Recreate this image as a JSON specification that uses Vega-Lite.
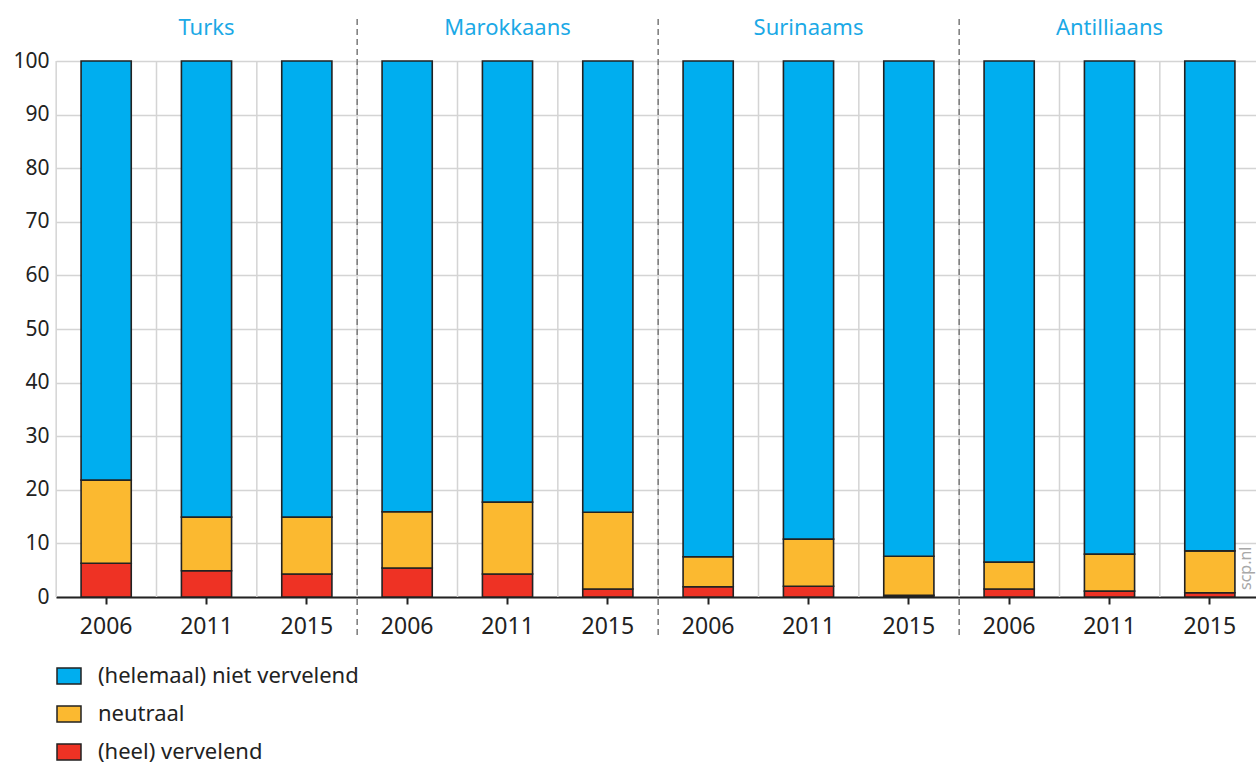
{
  "$schema": "https://vega.github.io/schema/vega-lite/v6.json",
  "padding": {"left": 12, "top": 14, "right": 0, "bottom": 0},
  "background": "white",
  "width": 1204,
  "height": 536,
  "data": {"values": [
    {"group": "Turks", "year": "2006", "cat": "(heel) vervelend", "value": 6.3},
    {"group": "Turks", "year": "2006", "cat": "neutraal", "value": 15.5},
    {"group": "Turks", "year": "2006", "cat": "(helemaal) niet vervelend", "value": 78.2},
    {"group": "Turks", "year": "2011", "cat": "(heel) vervelend", "value": 4.9},
    {"group": "Turks", "year": "2011", "cat": "neutraal", "value": 10.0},
    {"group": "Turks", "year": "2011", "cat": "(helemaal) niet vervelend", "value": 85.1},
    {"group": "Turks", "year": "2015", "cat": "(heel) vervelend", "value": 4.3},
    {"group": "Turks", "year": "2015", "cat": "neutraal", "value": 10.6},
    {"group": "Turks", "year": "2015", "cat": "(helemaal) niet vervelend", "value": 85.1},
    {"group": "Marokkaans", "year": "2006", "cat": "(heel) vervelend", "value": 5.4},
    {"group": "Marokkaans", "year": "2006", "cat": "neutraal", "value": 10.5},
    {"group": "Marokkaans", "year": "2006", "cat": "(helemaal) niet vervelend", "value": 84.1},
    {"group": "Marokkaans", "year": "2011", "cat": "(heel) vervelend", "value": 4.3},
    {"group": "Marokkaans", "year": "2011", "cat": "neutraal", "value": 13.4},
    {"group": "Marokkaans", "year": "2011", "cat": "(helemaal) niet vervelend", "value": 82.3},
    {"group": "Marokkaans", "year": "2015", "cat": "(heel) vervelend", "value": 1.5},
    {"group": "Marokkaans", "year": "2015", "cat": "neutraal", "value": 14.3},
    {"group": "Marokkaans", "year": "2015", "cat": "(helemaal) niet vervelend", "value": 84.2},
    {"group": "Surinaams", "year": "2006", "cat": "(heel) vervelend", "value": 1.9},
    {"group": "Surinaams", "year": "2006", "cat": "neutraal", "value": 5.6},
    {"group": "Surinaams", "year": "2006", "cat": "(helemaal) niet vervelend", "value": 92.5},
    {"group": "Surinaams", "year": "2011", "cat": "(heel) vervelend", "value": 2.0},
    {"group": "Surinaams", "year": "2011", "cat": "neutraal", "value": 8.8},
    {"group": "Surinaams", "year": "2011", "cat": "(helemaal) niet vervelend", "value": 89.2},
    {"group": "Surinaams", "year": "2015", "cat": "(heel) vervelend", "value": 0.3},
    {"group": "Surinaams", "year": "2015", "cat": "neutraal", "value": 7.3},
    {"group": "Surinaams", "year": "2015", "cat": "(helemaal) niet vervelend", "value": 92.4},
    {"group": "Antilliaans", "year": "2006", "cat": "(heel) vervelend", "value": 1.5},
    {"group": "Antilliaans", "year": "2006", "cat": "neutraal", "value": 5.0},
    {"group": "Antilliaans", "year": "2006", "cat": "(helemaal) niet vervelend", "value": 93.5},
    {"group": "Antilliaans", "year": "2011", "cat": "(heel) vervelend", "value": 1.1},
    {"group": "Antilliaans", "year": "2011", "cat": "neutraal", "value": 6.9},
    {"group": "Antilliaans", "year": "2011", "cat": "(helemaal) niet vervelend", "value": 92.0},
    {"group": "Antilliaans", "year": "2015", "cat": "(heel) vervelend", "value": 0.8},
    {"group": "Antilliaans", "year": "2015", "cat": "neutraal", "value": 7.8},
    {"group": "Antilliaans", "year": "2015", "cat": "(helemaal) niet vervelend", "value": 91.4}
  ]},
  "transform": [
    {"calculate": "datum.group + ' ' + datum.year", "as": "key"},
    {"calculate": "indexof(['(heel) vervelend', 'neutraal', '(helemaal) niet vervelend'], datum.cat)", "as": "ord"}
  ],
  "encoding": {
    "x": {
      "field": "key", "type": "nominal", "title": null,
      "sort": ["Turks 2006", "Turks 2011", "Turks 2015", "Marokkaans 2006", "Marokkaans 2011", "Marokkaans 2015", "Surinaams 2006", "Surinaams 2011", "Surinaams 2015", "Antilliaans 2006", "Antilliaans 2011", "Antilliaans 2015"],
      "scale": {"paddingInner": 0.5, "paddingOuter": 0.25},
      "axis": {"labelExpr": "split(datum.label, ' ')[1]"}
    }
  },
  "layer": [
    {
      "transform": [{"filter": "datum.cat == 'neutraal'"}],
      "mark": {"type": "rule", "color": "#d4d4d4", "strokeWidth": 1.5, "xOffset": -50},
      "encoding": {
        "y": {"datum": 0, "type": "quantitative", "title": null, "scale": {"domain": [0, 100], "nice": false}},
        "y2": {"datum": 100}
      }
    },
    {
      "mark": {"type": "bar", "stroke": "#222222", "strokeWidth": 1.6},
      "encoding": {
        "y": {"field": "value", "type": "quantitative", "stack": "zero", "title": null, "scale": {"domain": [0, 100], "nice": false}},
        "order": {"field": "ord", "type": "quantitative", "sort": "ascending"},
        "color": {
          "field": "cat", "type": "nominal",
          "scale": {"domain": ["(helemaal) niet vervelend", "neutraal", "(heel) vervelend"], "range": ["#00aeef", "#fbb930", "#ee3224"]},
          "legend": {"title": null}
        }
      }
    },
    {
      "transform": [{"filter": "datum.group != 'Turks' && datum.year == '2006' && datum.cat == 'neutraal'"}],
      "mark": {"type": "rule", "color": "#7a7a7a", "strokeWidth": 1.5, "strokeDash": [6, 4], "xOffset": -50},
      "encoding": {
        "y": {"datum": -7.1, "type": "quantitative"},
        "y2": {"datum": 108.6}
      }
    },
    {
      "transform": [{"filter": "datum.year == '2011' && datum.cat == 'neutraal'"}],
      "mark": {"type": "text", "baseline": "middle", "align": "center", "fontSize": 22, "color": "#1ba9e6"},
      "encoding": {
        "text": {"field": "group"},
        "y": {"datum": 106.1, "type": "quantitative"}
      }
    },
    {
      "transform": [{"filter": "datum.group == 'Antilliaans' && datum.year == '2015' && datum.cat == 'neutraal'"}],
      "mark": {"type": "text", "text": "scp.nl", "angle": 270, "align": "left", "baseline": "middle", "fontSize": 16, "color": "#a8a8a8", "xOffset": 36},
      "encoding": {
        "y": {"datum": 1.3, "type": "quantitative"}
      }
    }
  ],
  "config": {
    "font": "Noto Sans",
    "view": {"stroke": null},
    "axisY": {
      "grid": true, "gridColor": "#d4d4d4", "gridWidth": 1.5, "domain": false, "ticks": false,
      "labelFontSize": 21, "labelColor": "#222222", "labelPadding": 7,
      "values": [0, 10, 20, 30, 40, 50, 60, 70, 80, 90, 100]
    },
    "axisX": {
      "grid": false, "domain": true, "domainColor": "#222222", "domainWidth": 2,
      "ticks": true, "tickColor": "#222222", "tickWidth": 2, "tickSize": 7,
      "labelFontSize": 23, "labelColor": "#222222", "labelAngle": 0, "labelPadding": 11
    },
    "legend": {
      "orient": "bottom", "direction": "vertical", "title": null,
      "symbolType": "M-1,-0.67H1V0.67H-1Z", "symbolSize": 576,
      "symbolStrokeColor": "#222222", "symbolStrokeWidth": 1.5, "symbolOpacity": 1,
      "labelFontSize": 22, "labelColor": "#222222", "labelOffset": 16, "labelLimit": 500,
      "rowPadding": 13, "offset": 25
    }
  }
}
